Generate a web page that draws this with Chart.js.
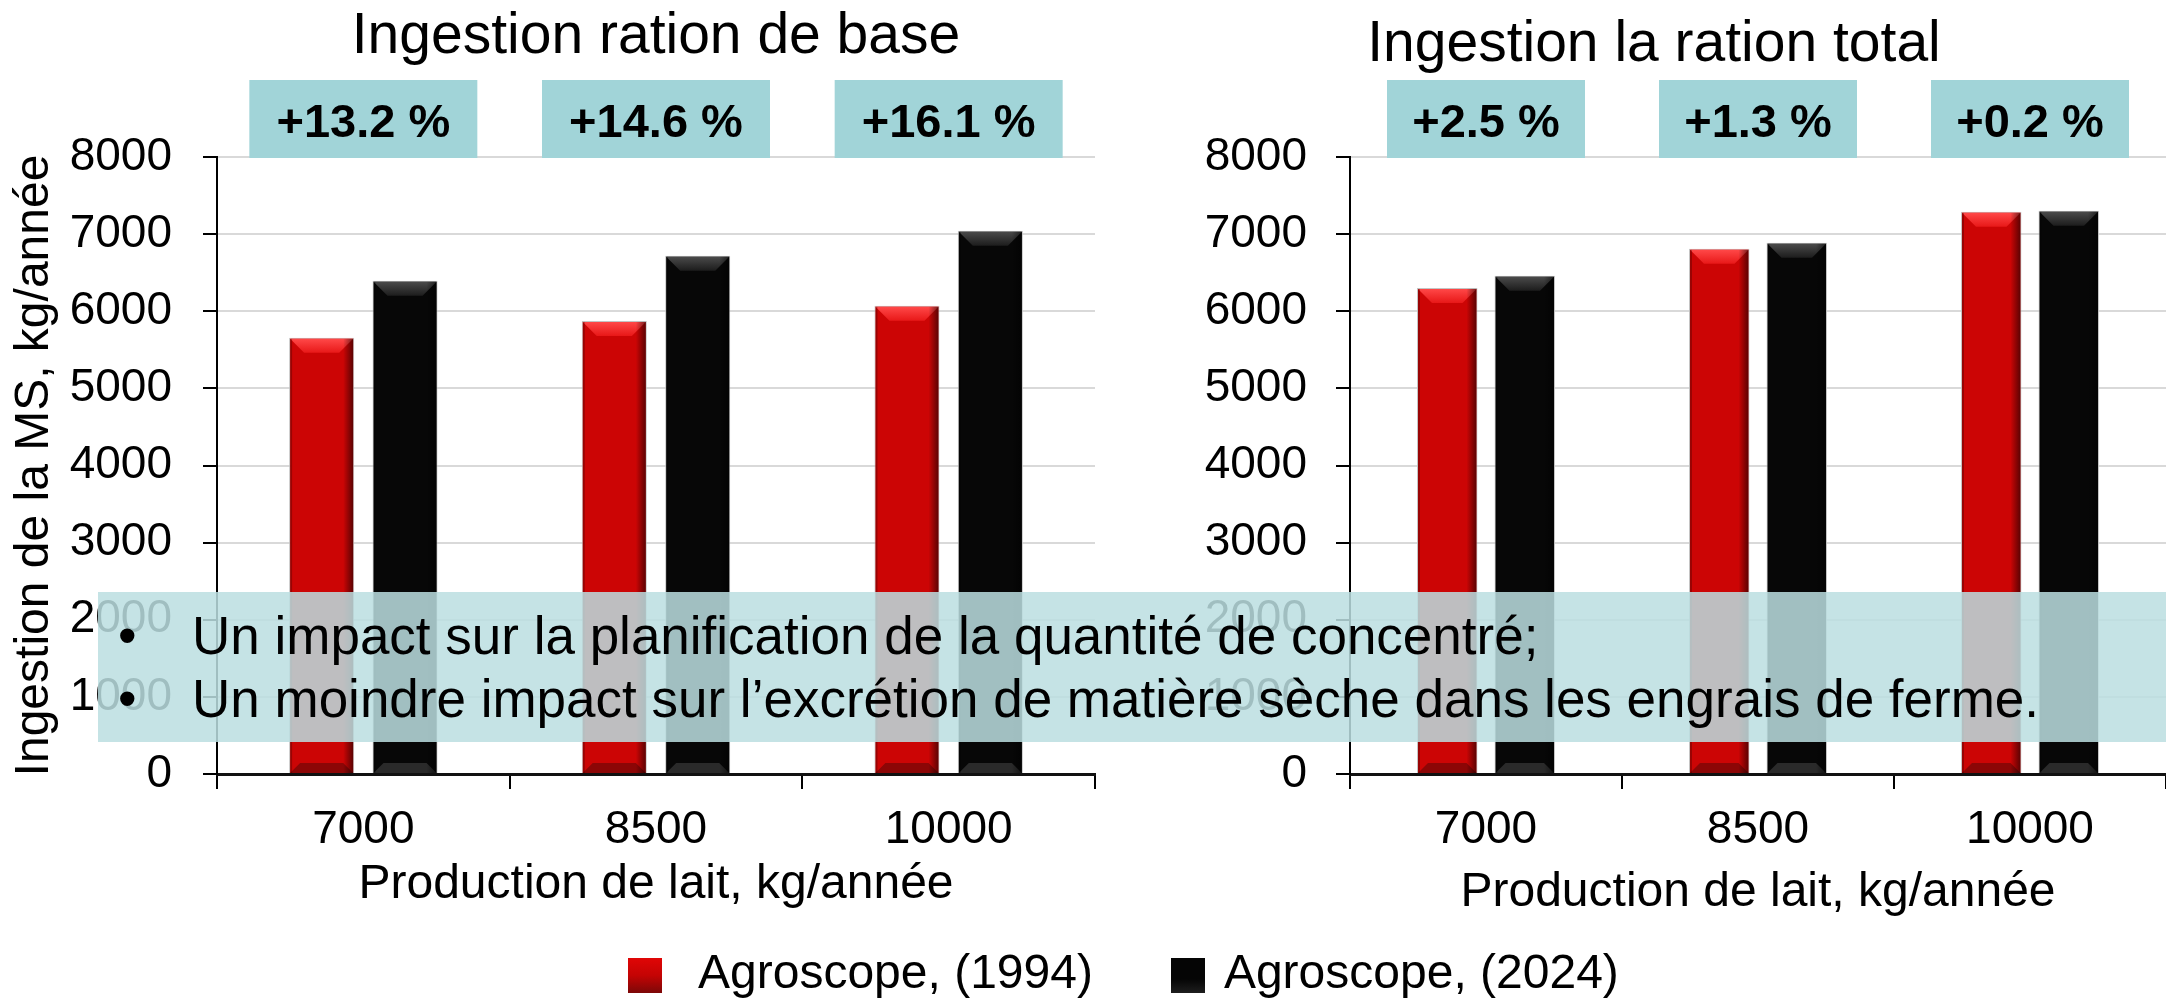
<!DOCTYPE html>
<html lang="fr">
<head>
<meta charset="utf-8">
<title>Ingestion de la MS</title>
<script src="https://cdn.jsdelivr.net/npm/chart.js@4.4.1/dist/chart.umd.min.js"></script>
<style>
  html, body { margin: 0; padding: 0; background: #fff; overflow: hidden; }
  #page { position: relative; width: 2166px; height: 1000px; font-family: "Liberation Sans", Arial, sans-serif; color: #000; }
  canvas { position: absolute; top: 0; }
  #leftChart { left: 0; }
  #rightChart { left: 1142px; }
  .title { position: absolute; width: 1000px; text-align: center; font-size: 57px; line-height: 57px; white-space: nowrap; }
  #band { position: absolute; left: 98px; top: 592px; width: 2068px; height: 150px; box-sizing: border-box; padding-top: 12px;
          background: rgba(187,222,225,0.855); font-size: 53px; line-height: 63px; z-index: 5; }
  #band div { position: relative; padding-left: 94px; white-space: nowrap; }
  #band div::before { content: '\2022'; position: absolute; left: 20px; }
  #legend { position: absolute; left: 628px; top: 948px; display: flex; font-size: 48px; line-height: 48px; white-space: nowrap; }
  #legend .item { display: flex; }
  #legend .item:first-child { margin-right: 78px; }
  #legend .sw { width: 34px; height: 35px; margin-top: 10px; }
  #legend .item:first-child .sw { margin-right: 36px; }
  #legend .item:last-child .sw { margin-right: 19px; }
</style>
</head>
<body>
<div id="page">
  <canvas id="leftChart" width="1110" height="1000"></canvas>
  <canvas id="rightChart" width="1024" height="1000"></canvas>
  <div class="title" style="left:156px; top:5px;">Ingestion ration de base</div>
  <div class="title" style="left:1154px; top:13px;">Ingestion la ration total</div>
  <div id="band">
    <div>Un impact sur la planification de la quantité de concentré;</div>
    <div>Un moindre impact sur l’excrétion de matière sèche dans les engrais de ferme.</div>
  </div>
  <div id="legend"></div>
</div>
<script>
// values (kg MS / année)
const categories = ['7000', '8500', '10000'];
const seriesNames = ['Agroscope, (1994)', 'Agroscope, (2024)'];
const baseRation1994 = [5655, 5875, 6070];
const baseRation2024 = [6394, 6719, 7043];
const totalRation1994 = [6303, 6809, 7289];
const totalRation2024 = [6459, 6887, 7302];
const baseDiffLabels = ['+13.2 %', '+14.6 %', '+16.1 %'];
const totalDiffLabels = ['+2.5 %', '+1.3 %', '+0.2 %'];
const yMin = 0, yMax = 8000, yStep = 1000;

const FONT = '"Liberation Sans", Arial, sans-serif';
Chart.defaults.font.family = FONT;
Chart.defaults.color = '#000';

const RED = '#cc0505', BLACK = '#070707';

// bevel look of the bars (light top facet, dark bottom facet, shaded sides)
const bevel = {
  id: 'bevel',
  afterDatasetsDraw(chart) {
    const ctx = chart.ctx;
    ctx.save();
    chart.data.datasets.forEach((ds, i) => {
      const meta = chart.getDatasetMeta(i);
      meta.data.forEach(bar => {
        const p = bar.getProps(['x', 'y', 'base', 'width'], true);
        const l = p.x - p.width / 2 + 1, r = p.x + p.width / 2 - 1, y = p.y + 1, b = p.base, d = 14, db = 10;
        let g = ctx.createLinearGradient(0, y, 0, y + d);
        g.addColorStop(0, ds.hiTop); g.addColorStop(1, ds.hiBottom);
        ctx.fillStyle = g;
        ctx.beginPath(); ctx.moveTo(l, y); ctx.lineTo(r, y); ctx.lineTo(r - d, y + d); ctx.lineTo(l + d, y + d); ctx.closePath(); ctx.fill();
        ctx.fillStyle = ds.lo;
        ctx.beginPath(); ctx.moveTo(l, b); ctx.lineTo(r, b); ctx.lineTo(r - db, b - db); ctx.lineTo(l + db, b - db); ctx.closePath(); ctx.fill();
        g = ctx.createLinearGradient(r - 10, 0, r, 0);
        g.addColorStop(0, 'rgba(0,0,0,0)'); g.addColorStop(1, 'rgba(0,0,0,0.55)');
        ctx.fillStyle = g; ctx.fillRect(r - 10, y, 10, b - y);
        ctx.fillStyle = 'rgba(0,0,0,0.25)'; ctx.fillRect(l, y, 2, b - y);
      });
    });
    ctx.restore();
  }
};

// percentage boxes above each category
const pctBoxes = {
  id: 'pctBoxes',
  afterDraw(chart, args, opts) {
    const {ctx, chartArea} = chart;
    const xs = chart.scales.x;
    ctx.save();
    ctx.font = 'bold 47px ' + FONT;
    ctx.textAlign = 'center';
    ctx.textBaseline = 'alphabetic';
    opts.labels.forEach((txt, i) => {
      const cx = xs.getPixelForValue(i);
      const top = chartArea.top - 77;
      ctx.fillStyle = 'rgb(161,212,216)';
      ctx.fillRect(cx - opts.width / 2, top, opts.width, 78);
      ctx.fillStyle = '#000';
      ctx.fillText(txt, cx, top + 57);
    });
    ctx.restore();
  }
};

const makeDatasets = (a, b) => [
  { label: seriesNames[0], data: a, backgroundColor: RED, borderColor: 'rgba(190,190,190,0.9)', borderWidth: 1,
    hiTop: '#ff4848', hiBottom: '#e81818', lo: '#8c0606' },
  { label: seriesNames[1], data: b, backgroundColor: BLACK, borderColor: 'rgba(190,190,190,0.9)', borderWidth: 1,
    hiTop: '#4a4a4a', hiBottom: '#1c1c1c', lo: '#2a2a2a' }
];

const makeChart = (el, cfg) => new Chart(el, {
  type: 'bar',
  data: { labels: categories, datasets: makeDatasets(cfg.a, cfg.b) },
  plugins: [bevel, pctBoxes],
  options: {
    responsive: false,
    animation: false,
    layout: { padding: { top: 157, right: cfg.padRight, bottom: 0, left: 0 } },
    datasets: { bar: { categoryPercentage: 0.57, barPercentage: 0.78 } },
    plugins: {
      legend: { display: false },
      title: { display: false },
      tooltip: { enabled: false },
      pctBoxes: { labels: cfg.diffs, width: cfg.boxWidth }
    },
    scales: {
      x: {
        afterFit: s => { s.height = 226; },
        grid: { drawOnChartArea: false, drawTicks: true, tickLength: 15, tickColor: '#000', lineWidth: 2 },
        border: { color: '#111', width: 3 },
        ticks: { font: { size: 46 }, padding: 14, color: '#000' },
        title: { display: true, text: 'Production de lait, kg/année', font: { size: 48 }, color: '#000',
                 padding: { top: 0, bottom: cfg.xTitlePad } }
      },
      y: {
        min: yMin, max: yMax,
        afterFit: s => { s.width = cfg.yWidth; },
        ticks: { stepSize: yStep, font: { size: 46 }, padding: cfg.yTickPad, color: '#000', callback: v => String(v) },
        grid: { color: '#d9d9d9', lineWidth: 2, tickLength: 14, tickColor: '#000' },
        border: { color: '#000', width: 2 },
        title: { display: cfg.yTitle, text: 'Ingestion de la MS, kg/année', font: { size: 48 }, color: '#000',
                 padding: { top: 6, bottom: 0 } }
      }
    }
  }
});

const leftChart = makeChart(document.getElementById('leftChart'), {
  a: baseRation1994, b: baseRation2024, diffs: baseDiffLabels, boxWidth: 228,
  padRight: 15, yWidth: 217, yTickPad: 31, yTitle: true, xTitlePad: 86
});
makeChart(document.getElementById('rightChart'), {
  a: totalRation1994, b: totalRation2024, diffs: totalDiffLabels, boxWidth: 198,
  padRight: 0, yWidth: 208, yTickPad: 29, yTitle: false, xTitlePad: 78
});

// shared legend built from the left chart's datasets
const legendEl = document.getElementById('legend');
const swatchBg = ['linear-gradient(180deg,#e00606 0%,#c40404 50%,#7c0808 100%)', 'linear-gradient(180deg,#050505 0%,#050505 60%,#1e1e1e 100%)'];
leftChart.data.datasets.forEach((ds, i) => {
  const item = document.createElement('div');
  item.className = 'item';
  item.innerHTML = `<span class="sw" style="background:${swatchBg[i]}"></span><span>${ds.label}</span>`;
  legendEl.appendChild(item);
});
</script>
</body>
</html>
